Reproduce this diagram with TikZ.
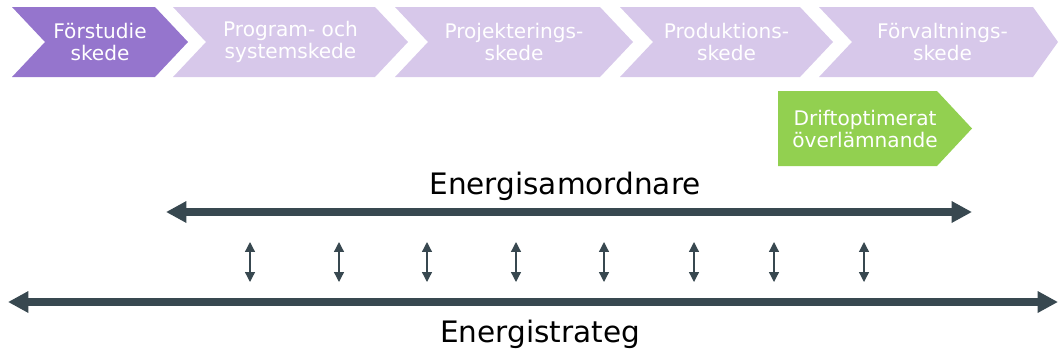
\documentclass[tikz,border=0pt]{standalone}
\usepackage{fontspec}
\setmainfont{DejaVu Sans}
\usetikzlibrary{arrows.meta}
\definecolor{phaseon}{RGB}{149,117,205}
\definecolor{phaseoff}{RGB}{215,200,234}
\definecolor{handover}{RGB}{146,208,80}
\definecolor{slate}{RGB}{56,72,80}

\begin{document}
\begin{tikzpicture}[x=0.025cm,y=-0.025cm]
\tikzstyle{phasetext}=[text=white,align=center,inner sep=0pt,font=\fontsize{14.3}{15.6}\selectfont];
\tikzstyle{biglabel}=[text=black,inner sep=0pt,font=\fontsize{21}{24}\selectfont];
\tikzstyle{bigarrow}=[slate,line width=5pt,{Triangle[length=14.5pt,width=14.5pt]}-{Triangle[length=14.5pt,width=14.5pt]}];
\tikzstyle{linkarrow}=[slate,line width=0.9pt,{Triangle[length=7pt,width=7pt]}-{Triangle[length=7pt,width=7pt]}];
\useasboundingbox (0,0) rectangle (1059,358);

% phases
\foreach \a/\b/\c/\d/\col/\id/\txt in {
	12/45/155/188/phaseon/fs/{Förstudie\\skede},
	173/206/375/408/phaseoff/ps/{Program- och\\systemskede},
	395/428/600/633/phaseoff/pj/{Projekterings-\\skede},
	620/653/800/833/phaseoff/pd/{Produktions-\\skede},
	819/852/1033/1058/phaseoff/fv/{Förvaltnings-\\skede}}
{
	\fill[\col] (\a,7) -- (\c,7) -- (\d,42) -- (\c,77) -- (\a,77) -- (\b,42) -- cycle;
	\node[phasetext] (\id) at ({(\b+\c)/2},42) {\txt};
}

% handover
\fill[handover] (778,91) -- (937,91) -- (972,128.5) -- (937,166) -- (778,166) -- cycle;
\node[phasetext] (drift) at (865,129) {Driftoptimerat\\överlämnande};

% roles
\coordinate (samL) at (166,212);
\coordinate (samR) at (972,212);
\draw[bigarrow] (samL) -- (samR);
\node[biglabel] (sam) at (565,186) {Energisamordnare};

\coordinate (strL) at (8,302);
\coordinate (strR) at (1058,302);
\draw[bigarrow] (strL) -- (strR);
\node[biglabel] (str) at (540,334) {Energistrateg};

\foreach \x [count=\i] in {250,339,427,516,604,694,774,864}
{
	\coordinate (up\i) at (\x,242);
	\coordinate (dn\i) at (\x,282);
	\draw[linkarrow] (up\i) -- (dn\i);
}
\end{tikzpicture}
\end{document}
